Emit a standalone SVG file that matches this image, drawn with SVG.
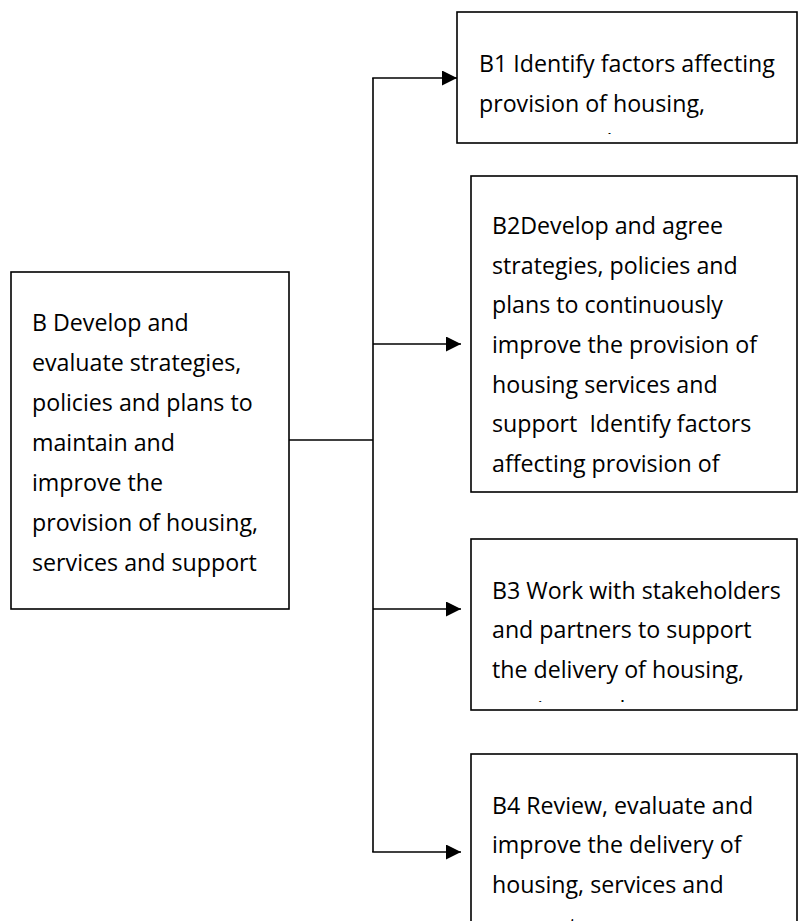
<svg xmlns="http://www.w3.org/2000/svg" width="798" height="921" viewBox="0 0 798 921">
  <style>
    .box { fill: #ffffff; stroke: #000000; stroke-width: 1.6; }
    .label { font-family: "Open Sans", "Liberation Sans", sans-serif; font-size: 23.2px; fill: #000000; }
    .wire { fill: none; stroke: #000000; stroke-width: 1.6; }
  </style>
  <defs>
    <marker id="arrow" markerUnits="userSpaceOnUse" markerWidth="15" markerHeight="15" viewBox="0 0 15 15" refX="15" refY="7.5" orient="auto">
      <path d="M0,0 L15,7.5 L0,15 Z" fill="#000000"/>
    </marker>
    <!-- text areas keep to the inner margin of each box -->
    <clipPath id="clipB1"><rect x="458" y="13" width="338" height="121"/></clipPath>
    <clipPath id="clipB2"><rect x="472" y="177" width="324" height="310"/></clipPath>
    <clipPath id="clipB3"><rect x="472" y="540" width="324" height="162"/></clipPath>
  </defs>

  <!-- connectors -->
  <g id="connectors">
    <line class="wire" x1="289" y1="440" x2="373" y2="440"/>
    <line class="wire" x1="373" y1="78" x2="373" y2="852"/>
    <line class="wire" x1="372.2" y1="78" x2="457" y2="78" marker-end="url(#arrow)"/>
    <line class="wire" x1="373" y1="344" x2="461" y2="344" marker-end="url(#arrow)"/>
    <line class="wire" x1="373" y1="609" x2="461" y2="609" marker-end="url(#arrow)"/>
    <line class="wire" x1="372.2" y1="852" x2="461" y2="852" marker-end="url(#arrow)"/>
  </g>

  <!-- parent node -->
  <g id="node-B">
    <rect class="box" x="11" y="272" width="278" height="337"/>
    <text class="label" x="32" y="331">B Develop and</text>
    <text class="label" x="32" y="371">evaluate strategies,</text>
    <text class="label" x="32" y="411">policies and plans to</text>
    <text class="label" x="32" y="451">maintain and</text>
    <text class="label" x="32" y="491">improve the</text>
    <text class="label" x="32" y="531">provision of housing,</text>
    <text class="label" x="32" y="571">services and support</text>
  </g>

  <g id="node-B1">
    <rect class="box" x="457" y="12" width="340" height="131"/>
    <g clip-path="url(#clipB1)">
      <text class="label" x="479" y="72">B1 Identify factors affecting</text>
      <text class="label" x="479" y="111.5">provision of housing,</text>
      <text class="label" x="479" y="151">services and support</text>
    </g>
  </g>

  <g id="node-B2">
    <rect class="box" x="471" y="176" width="326" height="316"/>
    <g clip-path="url(#clipB2)">
      <text class="label" x="492" y="234">B2Develop and agree</text>
      <text class="label" x="492" y="274">strategies, policies and</text>
      <text class="label" x="492" y="313">plans to continuously</text>
      <text class="label" x="492" y="353">improve the provision of</text>
      <text class="label" x="492" y="393">housing services and</text>
      <text class="label" x="492" y="432" xml:space="preserve">support  Identify factors</text>
      <text class="label" x="492" y="472">affecting provision of</text>
    </g>
  </g>

  <g id="node-B3">
    <rect class="box" x="471" y="539" width="326" height="171"/>
    <g clip-path="url(#clipB3)">
      <text class="label" x="492" y="599">B3 Work with stakeholders</text>
      <text class="label" x="492" y="638">and partners to support</text>
      <text class="label" x="492" y="678">the delivery of housing,</text>
      <text class="label" x="492" y="718">services and support</text>
    </g>
  </g>

  <g id="node-B4">
    <rect class="box" x="471" y="754" width="326" height="200"/>
    <text class="label" x="492" y="814">B4 Review, evaluate and</text>
    <text class="label" x="492" y="853">improve the delivery of</text>
    <text class="label" x="492" y="893">housing, services and</text>
    <text class="label" x="492" y="935">support</text>
  </g>
</svg>
